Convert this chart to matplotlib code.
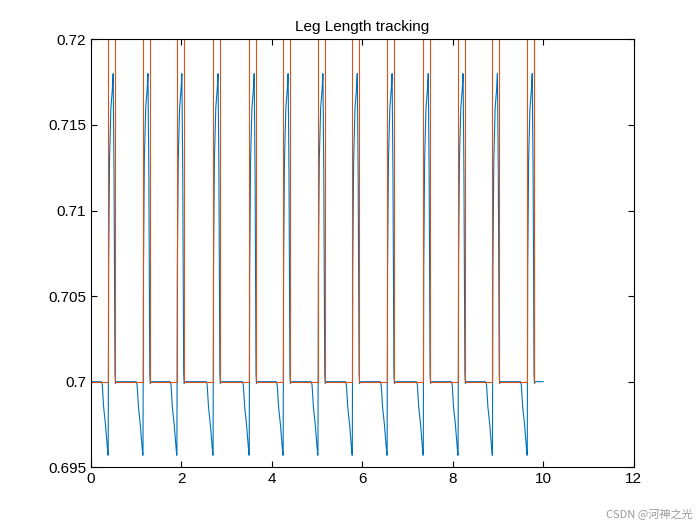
import matplotlib
matplotlib.use("Agg")
import matplotlib.pyplot as plt
import numpy as np

plt.rcParams['font.family'] = ['Liberation Sans', 'DejaVu Sans']

# rise times of desired leg length pulses (s)
rise_times = [0.38, 1.15, 1.90, 2.70, 3.50, 4.25, 5.02, 5.78, 6.55, 7.35, 8.12, 8.88, 9.65]
pulse_width = 0.15
base_len = 0.70
high_len = 0.75
# measured leg length around each pulse: offsets (s) and values
blue_offsets = [-0.15, -0.13, -0.10, -0.06, -0.02, -0.005, 0.0, 0.01, 0.03, 0.06, 0.09, 0.11, 0.13, 0.15, 0.16, 0.18, 0.22]
blue_values = [0.7000, 0.6998, 0.6985, 0.6975, 0.6962, 0.6957, 0.6957, 0.7066, 0.7130, 0.7160, 0.7170, 0.7180, 0.7120, 0.7005, 0.6999, 0.7000, 0.7000]
blue_end = 10.0
orange_end = 9.80

bt, bv = [0.0], [base_len]
ot, ov = [0.0], [base_len]
for r in rise_times:
    for o, v in zip(blue_offsets, blue_values):
        bt.append(r + o); bv.append(v)
    ot += [r, r, r + pulse_width, r + pulse_width]
    ov += [base_len, high_len, high_len, base_len]
bt.append(blue_end); bv.append(base_len)
ot = np.array(ot); ov = np.array(ov)
m = ot <= orange_end
ot = list(ot[m]) + [orange_end]; ov = list(ov[m]) + [high_len]

fig = plt.figure(figsize=(7, 5.25), dpi=100)
ax = fig.add_axes([0.13, 0.11, 0.775, 0.815])
ax.plot(bt, bv, color='#0072BD', lw=0.8)
ax.plot(ot, ov, color='#D95319', lw=0.8)
ax.set_xlim(0, 12); ax.set_ylim(0.695, 0.72)
ax.set_xticks([0, 2, 4, 6, 8, 10, 12])
ax.set_yticks([0.695, 0.7, 0.705, 0.71, 0.715, 0.72])
ax.set_yticklabels(['0.695', '0.7', '0.705', '0.71', '0.715', '0.72'])
ax.tick_params(direction='in', top=True, right=True, labelsize=11, length=4)
ax.set_title('Leg Length tracking', fontsize=11)
fig.text(0.99, 0.01, 'CSDN @河神之光', ha='right', va='bottom', fontsize=8, color='#999999',
         family=['Noto Sans CJK SC', 'DejaVu Sans'])
fig.savefig('out.png')
